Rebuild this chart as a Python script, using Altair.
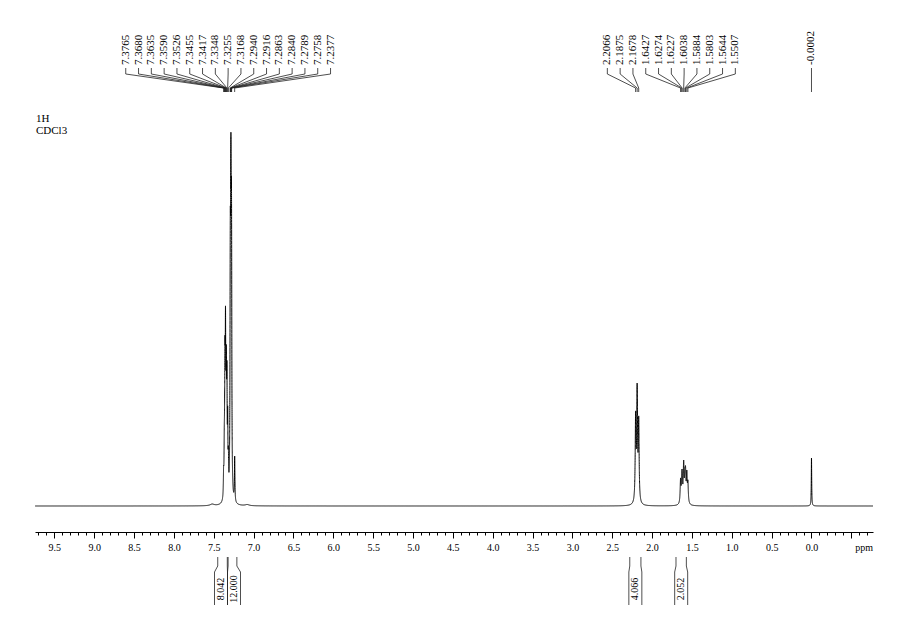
import numpy as np
import pandas as pd
import altair as alt

# ---------------- data ----------------
arom_shifts = [7.3765, 7.3680, 7.3635, 7.3590, 7.3526, 7.3455, 7.3417, 7.3348, 7.3255,
               7.3168, 7.2940, 7.2916, 7.2863, 7.2840, 7.2789, 7.2758, 7.2377]
arom_heights = [40, 80, 110, 170, 200, 150, 160, 145, 100, 60, 250, 300, 355, 368, 330, 280, 50]

alk_shifts = [2.2066, 2.1875, 2.1678, 1.6427, 1.6274, 1.6227, 1.6038, 1.5884, 1.5803, 1.5644, 1.5507]
alk_heights = [95, 123, 90, 28, 34, 36, 46, 38, 40, 36, 26]

tms_shifts = [-0.0002]
tms_heights = [48]

minor_shifts = [7.52, 7.08]          # tiny unlabelled bumps
minor_heights = [2.0, 1.5]

integral_values = ["8.042", "12.000", "4.066", "2.052"]
integral_from = [7.45, 7.32, 2.28, 1.70]
integral_to = [7.33, 7.21, 2.14, 1.57]

title_lines = ["1H", "CDCl3"]

# ---------------- layout / style constants ----------------
X_LEFT, X_RIGHT = 9.743, -0.772
PX_PER_PPM = 79.7
Y_MIN, Y_MAX = -26, 478
FONT = "Liberation Serif"

# ---------------- spectrum (Lorentzian lines at the read peaks) ----------------
groups = [
    (arom_shifts, arom_heights, 0.0035),
    (alk_shifts[:3], alk_heights[:3], 0.006),
    (alk_shifts[3:], alk_heights[3:], 0.006),
    (tms_shifts, tms_heights, 0.003),
    (minor_shifts, minor_heights, 0.03),
]
pos = np.concatenate([np.array(g[0], float) for g in groups])
tgt = np.concatenate([np.array(g[1], float) for g in groups])
wid = np.concatenate([np.full(len(g[0]), g[2]) for g in groups])


def lor(x, p, w):
    return w ** 2 / (w ** 2 + (x - p) ** 2)


M = lor(pos[:, None], pos[None, :], wid[None, :])
amp = tgt.copy()
for _ in range(300):
    amp *= tgt / (M @ amp)

grid = [np.arange(X_RIGHT, X_LEFT, 0.002)]
for p in pos[:-2]:
    grid.append(np.arange(p - 0.03, p + 0.03, 0.0004))
grid.append(pos)
x = np.unique(np.round(np.concatenate(grid), 5))
y = (amp[None, :] * lor(x[:, None], pos[None, :], wid[None, :])).sum(axis=1)
spec = pd.DataFrame({"ppm": x, "I": np.round(y, 3)})

# ---------------- peak labels with fan lines ----------------
sp = 12.8 / PX_PER_PPM
label_groups = [arom_shifts, alk_shifts, tms_shifts]
lab_rows, seg_rows = [], []
for g in label_groups:
    n = len(g)
    c = float(np.mean(g))
    for i, s in enumerate(g):
        lx = c + ((n - 1) / 2 - i) * sp
        lab_rows.append({"x": lx, "y": 441, "t": f"{s:.4f}"})
        seg_rows += [
            {"x": lx, "x2": lx, "y": 438, "y2": 432},
            {"x": lx, "x2": s, "y": 432, "y2": 418},
            {"x": s, "x2": s, "y": 418, "y2": 414},
        ]
labels = pd.DataFrame(lab_rows)

# ---------------- integrals ----------------
hw = 6.5 / PX_PER_PPM
centers = [(a + b) / 2 for a, b in zip(integral_from, integral_to)]
for _ in range(20):
    for i in range(len(centers) - 1):
        d = centers[i] - centers[i + 1]
        if d < 2 * hw:
            sh = (2 * hw - d) / 2
            centers[i] += sh
            centers[i + 1] -= sh
int_rows = []
for a, b, c, v in zip(integral_from, integral_to, centers, integral_values):
    seg_rows += [
        {"x": a, "x2": a, "y": -51, "y2": -60},
        {"x": a, "x2": c + hw, "y": -60, "y2": -66},
        {"x": c + hw, "x2": c + hw, "y": -66, "y2": -99},
        {"x": b, "x2": b, "y": -51, "y2": -60},
        {"x": b, "x2": c - hw, "y": -60, "y2": -66},
        {"x": c - hw, "x2": c - hw, "y": -66, "y2": -99},
    ]
    int_rows.append({"x": c, "y": -83, "t": v})
segs = pd.DataFrame(seg_rows)
ints = pd.DataFrame(int_rows)

titles = pd.DataFrame({"x": [X_LEFT, X_LEFT], "y": [384, 372], "t": title_lines})
unit = pd.DataFrame({"x": [-0.66], "y": [-42], "t": ["ppm"]})

# ---------------- chart ----------------
xs = alt.Scale(domain=[X_RIGHT, X_LEFT], reverse=True, nice=False, zero=False)
ys = alt.Scale(domain=[Y_MIN, Y_MAX], nice=False, zero=False)

tick_vals = [float(round(v, 1)) for v in np.arange(-0.7, 9.75, 0.1)]
x_axis = alt.Axis(
    values=tick_vals,
    tickCount=500,
    labelExpr="(datum.value > -0.01 && abs(datum.value*2 - round(datum.value*2)) < 0.01) ? format(datum.value, '.1f') : ''",
    tickSize={"condition": {"test": "abs(datum.value*2 - round(datum.value*2)) < 0.01", "value": 6}, "value": 3},
    tickColor="black", domainColor="black", tickWidth=1, domainWidth=1,
    labelFont=FONT, labelFontSize=10, labelColor="black", labelPadding=4,
    grid=False, title=None, labelFlush=False, labelOverlap=False,
)

line = alt.Chart(spec).mark_line(color="black", strokeWidth=1).encode(
    x=alt.X("ppm:Q", scale=xs, axis=x_axis),
    y=alt.Y("I:Q", scale=ys, axis=None),
)

rules = alt.Chart(segs).mark_rule(color="#222", strokeWidth=0.8).encode(
    x=alt.X("x:Q", scale=xs), x2="x2:Q",
    y=alt.Y("y:Q", scale=ys), y2="y2:Q",
)

lab_text = alt.Chart(labels).mark_text(
    angle=270, align="left", baseline="middle", font=FONT, fontSize=11, color="black"
).encode(x=alt.X("x:Q", scale=xs), y=alt.Y("y:Q", scale=ys), text="t:N")

int_text = alt.Chart(ints).mark_text(
    angle=270, align="center", baseline="middle", font=FONT, fontSize=10, color="black"
).encode(x=alt.X("x:Q", scale=xs), y=alt.Y("y:Q", scale=ys), text="t:N")

title_text = alt.Chart(titles).mark_text(
    align="left", baseline="alphabetic", font=FONT, fontSize=11, color="black", dx=1
).encode(x=alt.X("x:Q", scale=xs), y=alt.Y("y:Q", scale=ys), text="t:N")

unit_text = alt.Chart(unit).mark_text(
    align="center", baseline="middle", font=FONT, fontSize=10, color="black"
).encode(x=alt.X("x:Q", scale=xs), y=alt.Y("y:Q", scale=ys), text="t:N")

chart = alt.layer(line, rules, lab_text, int_text, title_text, unit_text).properties(
    width=838, height=504,
    autosize=alt.AutoSizeParams(type="none"),
    padding={"left": 27, "top": 20, "right": 20, "bottom": 80},
    background="white",
).configure_view(stroke=None)

chart.save("out.html", embed_options={"renderer": "svg", "actions": False})
